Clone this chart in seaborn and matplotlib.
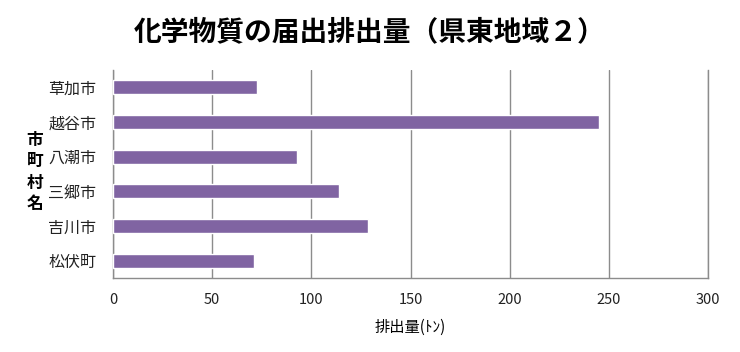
import numpy as np
import pandas as pd
import matplotlib.pyplot as plt
import seaborn as sns

# データ
cities = ["草加市", "越谷市", "八潮市", "三郷市", "吉川市", "松伏町"]
emissions = [72.8, 245.0, 92.8, 114.0, 128.5, 70.9]

df = pd.DataFrame({"市町村名": cities, "排出量": emissions})

sns.set_style("white")
plt.rcParams["font.family"] = ["Noto Sans CJK JP", "DejaVu Sans"]
plt.rcParams["text.color"] = "black"
plt.rcParams["axes.labelcolor"] = "black"
plt.rcParams["xtick.labelcolor"] = "#222222"
plt.rcParams["ytick.labelcolor"] = "#222222"

fig = plt.figure(figsize=(7.4, 3.52), dpi=100)
ax = fig.add_axes([113 / 740, 1 - 278 / 352, (708 - 113) / 740, (278 - 70) / 352])

sns.barplot(data=df, y="市町村名", x="排出量", orient="h", color="#8064A2",
            saturation=1, width=0.4, ax=ax, zorder=3)

ax.set_xlim(0, 300)
ax.set_ylim(len(cities) - 0.5, -0.5)
ax.set_xticks(np.arange(0, 301, 50))
ax.grid(axis="x", color="#8c8c8c", linewidth=1, zorder=0)
ax.grid(axis="y", visible=False)

# 区切りの目盛り
ax.set_yticks(np.arange(-0.5, len(cities), 1), minor=True)
ax.tick_params(axis="y", which="major", length=0, labelsize=11.5, pad=12)
ax.tick_params(axis="y", which="minor", length=5, color="#8c8c8c", direction="out")
ax.tick_params(axis="x", length=5, color="#8c8c8c", direction="out", labelsize=10.5, pad=6)

ax.spines["top"].set_visible(False)
for s in ["left", "bottom", "right"]:
    ax.spines[s].set_color("#8c8c8c")
    ax.spines[s].set_linewidth(1)

ax.set_xlabel("排出量(ﾄﾝ)", fontsize=11, labelpad=8)
ax.set_ylabel("")
fig.text(35 / 740, 1 - 172 / 352, "市\n町\n村\n名", fontsize=12, fontweight="bold",
         ha="center", va="center", linespacing=1.25)

fig.text(370 / 740, 1 - 32 / 352, "化学物質の届出排出量（県東地域２）", fontsize=20,
         fontweight="bold", ha="center", va="center")

fig.savefig("out.png", dpi=100)
